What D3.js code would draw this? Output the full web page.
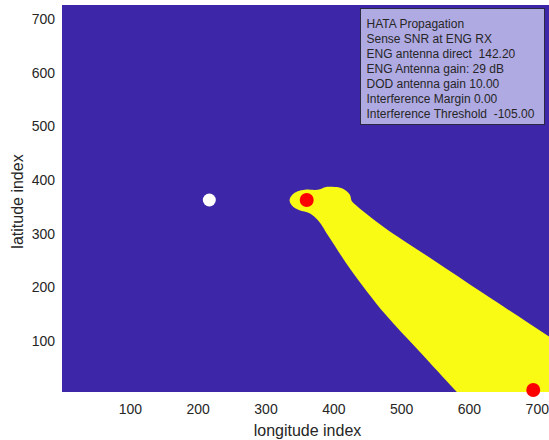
<!DOCTYPE html>
<html>
<head>
<meta charset="utf-8">
<script src="https://cdn.jsdelivr.net/npm/d3@7"></script>
<style>
  html, body { margin: 0; padding: 0; background: #ffffff; }
  svg { display: block; }
  text { font-family: Arial, "Liberation Sans", Helvetica, sans-serif; }
</style>
</head>
<body>
<svg id="chart" width="549" height="440"></svg>
<script>
// ---- data ----
const xTicks = [100, 200, 300, 400, 500, 600, 700];
const yTicks = [100, 200, 300, 400, 500, 600, 700];
const xDomain = [0, 718];
const yDomain = [4, 727];

// outline of the yellow (above threshold) coverage region, [longitude index, latitude index]
// (the region runs past the visible right and bottom edges; it is clipped to the axes)
const coverageLon = [335.5, 339.5, 347.5, 358.3, 373.0, 380.4, 386.3, 392.6, 407.4, 417.2, 424.6, 427.1, 433.5, 473.7, 547.4, 621.1, 720, 800, 800, 629, 585, 525.0, 476.0, 426.0, 394.0, 378.0, 365.0, 350.0, 339.0];
const coverageLat = [362.7, 372.5, 379.0, 382.0, 381.4, 382.7, 386.1, 387.5, 386.4, 381.4, 372.0, 360.8, 353.0, 312.8, 250.6, 188.4, 106, 40, -60, -60, 0, 82.5, 150.0, 232.0, 293.0, 324.0, 338.0, 343.5, 352.5];

const whiteDots = [[217.2, 362.7]];
const redDots = [[360.8, 362.7], [694.8, 7.7]];

const infoLines = [
  "HATA Propagation",
  "Sense SNR at ENG RX",
  "ENG antenna direct  142.20",
  "ENG Antenna gain: 29 dB",
  "DOD antenna gain 10.00",
  "Interference Margin 0.00",
  "Interference Threshold  -105.00"
];

// ---- layout ----
const svg = d3.select("#chart");
const plot = { left: 62, top: 5, right: 549, bottom: 392 };
const x = d3.scaleLinear().domain(xDomain).range([plot.left, plot.right]);
const y = d3.scaleLinear().domain(yDomain).range([plot.bottom, plot.top]);

const bg = "#3E26A8", yellow = "#F9FB15";
const tickColor = "#262626";

svg.append("defs").append("clipPath").attr("id", "plotClip")
  .append("rect")
  .attr("x", plot.left).attr("y", plot.top)
  .attr("width", plot.right - plot.left).attr("height", plot.bottom - plot.top);

// background (below threshold)
svg.append("rect")
  .attr("x", plot.left).attr("y", plot.top)
  .attr("width", plot.right - plot.left).attr("height", plot.bottom - plot.top)
  .attr("fill", bg);

// coverage region
const coverage = coverageLon.map((lon, i) => [lon, coverageLat[i]]);
const line = d3.line().x(d => x(d[0])).y(d => y(d[1])).curve(d3.curveCatmullRomClosed.alpha(0.5));
svg.append("path")
  .attr("clip-path", "url(#plotClip)")
  .attr("d", line(coverage))
  .attr("fill", yellow);

// axes (tick labels only, MATLAB style with image covering)
const xAxis = svg.append("g").attr("transform", `translate(0,${plot.bottom})`)
  .call(d3.axisBottom(x).tickValues(xTicks).tickSize(0).tickPadding(12));
xAxis.select(".domain").remove();
xAxis.selectAll("text").attr("font-size", 14).attr("fill", tickColor)
  .attr("font-family", "Arial, 'Liberation Sans', sans-serif");

const yAxis = svg.append("g").attr("transform", `translate(${plot.left},0)`)
  .call(d3.axisLeft(y).tickValues(yTicks).tickSize(0).tickPadding(7));
yAxis.select(".domain").remove();
yAxis.selectAll("text").attr("font-size", 14).attr("fill", tickColor)
  .attr("font-family", "Arial, 'Liberation Sans', sans-serif");

// axis labels
svg.append("text")
  .attr("x", (plot.left + plot.right) / 2 + 2).attr("y", 436)
  .attr("text-anchor", "middle").attr("font-size", 16).attr("fill", tickColor)
  .text("longitude index");
svg.append("text")
  .attr("transform", `translate(23,${(plot.top + plot.bottom) / 2 + 3}) rotate(-90)`)
  .attr("text-anchor", "middle").attr("font-size", 16).attr("fill", tickColor)
  .text("latitude index");

// markers
svg.selectAll("circle.white").data(whiteDots).enter().append("circle")
  .attr("class", "white")
  .attr("cx", d => x(d[0])).attr("cy", d => y(d[1])).attr("r", 6.5)
  .attr("fill", "#ffffff");
svg.selectAll("circle.red").data(redDots).enter().append("circle")
  .attr("class", "red")
  .attr("cx", d => x(d[0])).attr("cy", d => y(d[1])).attr("r", 7)
  .attr("fill", "#ff0000");

// info box
const box = svg.append("g");
box.append("rect")
  .attr("x", 360.5).attr("y", 8.5).attr("width", 184).attr("height", 116)
  .attr("fill", "#B0AAE3").attr("stroke", "#2a2a40").attr("stroke-width", 1);
box.selectAll("text").data(infoLines).enter().append("text")
  .attr("x", 366.5).attr("y", (d, i) => 27.5 + i * 15.05)
  .attr("font-size", 12).attr("fill", "#262626")
  .attr("xml:space", "preserve")
  .style("white-space", "pre")
  .text(d => d);
</script>
</body>
</html>
